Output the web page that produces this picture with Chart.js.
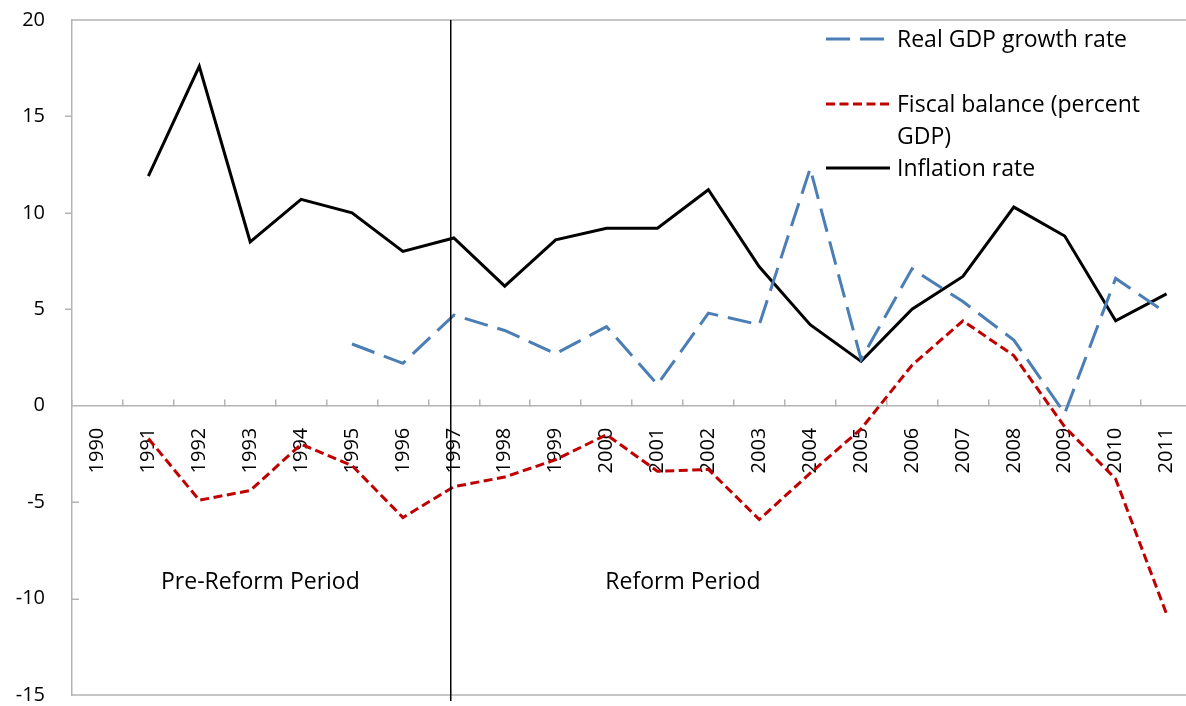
<!DOCTYPE html>
<html>
<head>
<meta charset="utf-8">
<script src="https://cdn.jsdelivr.net/npm/chart.js@4.4.1/dist/chart.umd.min.js"></script>
<style>
  html, body { margin: 0; padding: 0; background: #ffffff; overflow: hidden; }
  #wrap { width: 1186px; height: 706px; position: relative; overflow: hidden; }
  #c { position: absolute; left: 0; top: 0; }
</style>
</head>
<body>
<div id="wrap"><canvas id="c" width="1192" height="706"></canvas></div>
<script>
const years = ['1990','1991','1992','1993','1994','1995','1996','1997','1998','1999','2000',
               '2001','2002','2003','2004','2005','2006','2007','2008','2009','2010','2011'];
const gdpGrowth = [null, null, null, null, null, 3.2, 2.2, 4.7, 3.9, 2.7, 4.1,
                   1.1, 4.8, 4.2, 12.3, 2.4, 7.1, 5.4, 3.4, -0.4, 6.6, 4.8];
const fiscalBalance = [null, -1.7, -4.9, -4.4, -2.0, -3.1, -5.8, -4.2, -3.7, -2.8, -1.5,
                       -3.4, -3.3, -5.9, -3.5, -1.2, 2.1, 4.4, 2.6, -1.1, -3.8, -10.8];
const inflation = [null, 11.9, 17.6, 8.5, 10.7, 10.0, 8.0, 8.7, 6.2, 8.6, 9.2,
                   9.2, 11.2, 7.2, 4.2, 2.3, 5.0, 6.7, 10.3, 8.8, 4.4, 5.8];
const yTicks = [-15, -10, -5, 0, 5, 10, 15, 20];
const seriesNames = ['Real GDP growth rate', 'Fiscal balance (percent GDP)', 'Inflation rate'];
const periodLabels = ['Pre-Reform Period', 'Reform Period'];
const reformYear = '1997';

const FONT = "'Open Sans', 'Noto Sans', sans-serif";
const GRAY = '#b4b4b4';

function zeroPad(s) { s.paddingLeft = 0; s.paddingRight = 0; s.paddingTop = 0; s.paddingBottom = 0; }

const frame = {
  id: 'frame',
  beforeDatasetsDraw(chart) {
    const { ctx, chartArea: a, scales } = chart;
    const y = scales.y;
    ctx.save();
    ctx.strokeStyle = GRAY;
    ctx.lineWidth = 1.5;
    ctx.beginPath();
    ctx.moveTo(a.left, a.top); ctx.lineTo(a.right, a.top);
    ctx.moveTo(a.left, a.bottom); ctx.lineTo(a.right, a.bottom);
    // y tick marks: outside above zero, inside below zero
    yTicks.forEach(v => {
      if (v === 0 || v === y.min || v === y.max) return;
      const py = Math.round(y.getPixelForValue(v)) + 0.25;
      ctx.moveTo(a.left, py);
      ctx.lineTo(v > 0 ? a.left - 7 : a.left + 7, py);
    });
    ctx.stroke();
    ctx.restore();
  },
  afterDatasetsDraw(chart) {
    const { ctx, chartArea: a, scales } = chart;
    const x = scales.x, y = scales.y;
    ctx.save();
    // reform divider
    const vx = Math.round(x.getPixelForValue(years.indexOf(reformYear))) - 3.25;
    ctx.strokeStyle = '#000';
    ctx.lineWidth = 1.5;
    ctx.beginPath();
    ctx.moveTo(vx, a.top); ctx.lineTo(vx, a.bottom + 6);
    ctx.stroke();
    // period annotations
    ctx.fillStyle = '#000';
    ctx.font = '23px ' + FONT;
    ctx.textAlign = 'center';
    ctx.textBaseline = 'middle';
    ctx.fillText(periodLabels[0], x.getPixelForValue(3.2), y.getPixelForValue(-9.15));
    ctx.fillText(periodLabels[1], x.getPixelForValue(11.5), y.getPixelForValue(-9.15));
    // legend
    const ds = chart.data.datasets;
    const rows = [
      { d: ds[0], lines: ['Real GDP growth rate'], ly: 39 },
      { d: ds[1], lines: ['Fiscal balance (percent', 'GDP)'], ly: 104 },
      { d: ds[2], lines: ['Inflation rate'], ly: 168 }
    ];
    ctx.textAlign = 'left';
    rows.forEach(r => {
      ctx.save();
      ctx.strokeStyle = r.d.borderColor;
      ctx.lineWidth = r.d.borderWidth;
      ctx.setLineDash(r.d.borderDash || []);
      ctx.beginPath();
      ctx.moveTo(826, r.ly); ctx.lineTo(890, r.ly);
      ctx.stroke();
      ctx.restore();
      r.lines.forEach((t, i) => ctx.fillText(t, 897, r.ly + 1 + i * 32));
    });
    ctx.restore();
  }
};

new Chart(document.getElementById('c'), {
  type: 'line',
  data: {
    labels: years,
    datasets: [
      { label: seriesNames[0], data: gdpGrowth, borderColor: '#4a7eb4', borderWidth: 3,
        borderDash: [24, 10], pointRadius: 0, tension: 0, fill: false },
      { label: seriesNames[1], data: fiscalBalance, borderColor: '#c00000', borderWidth: 3,
        borderDash: [9, 4.5], pointRadius: 0, tension: 0, fill: false },
      { label: seriesNames[2], data: inflation, borderColor: '#000000', borderWidth: 3,
        pointRadius: 0, tension: 0, fill: false }
    ]
  },
  options: {
    responsive: false,
    animation: false,
    layout: { padding: { top: 20, right: 0, bottom: 11, left: 0 } },
    plugins: { legend: { display: false }, tooltip: { enabled: false } },
    scales: {
      y: {
        min: -15, max: 20,
        afterFit(s) { s.width = 72; zeroPad(s); },
        afterBuildTicks(s) { s.ticks = yTicks.map(v => ({ value: v })); },
        grid: { drawOnChartArea: false, drawTicks: false },
        border: { color: GRAY, width: 1.5 },
        ticks: { color: '#000', font: { family: FONT, size: 20 }, padding: 27 }
      },
      x: {
        position: { y: 0 },
        offset: true,
        afterFit(s) { zeroPad(s); },
        grid: { offset: true, drawOnChartArea: false, drawTicks: true, tickLength: -7, color: GRAY, lineWidth: 1.5 },
        border: { color: GRAY, width: 1.5 },
        ticks: { color: '#000', font: { family: FONT, size: 20 }, minRotation: 90, maxRotation: 90,
                 autoSkip: false, padding: 29 }
      }
    }
  },
  plugins: [frame]
});
</script>
</body>
</html>
